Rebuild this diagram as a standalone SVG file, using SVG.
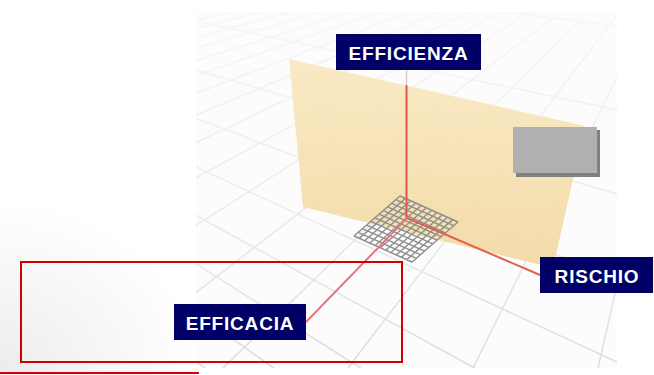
<svg xmlns="http://www.w3.org/2000/svg" width="654" height="375" viewBox="0 0 654 375">
  <defs>
    <linearGradient id="gridStroke" gradientUnits="userSpaceOnUse" x1="0" y1="12" x2="0" y2="368">
      <stop offset="0" stop-color="#f6f6f6"/>
      <stop offset="0.5" stop-color="#ececec"/>
      <stop offset="1" stop-color="#dcdcdc"/>
    </linearGradient>
    <linearGradient id="planeFill" gradientUnits="userSpaceOnUse" x1="0" y1="59" x2="0" y2="268">
      <stop offset="0" stop-color="#f9e7bd"/>
      <stop offset="1" stop-color="#f2d79e"/>
    </linearGradient>
    <radialGradient id="leftShade" cx="0" cy="1" r="1">
      <stop offset="0" stop-color="#ececec"/>
      <stop offset="1" stop-color="#ffffff"/>
    </radialGradient>
    <clipPath id="gridClip">
      <rect x="196" y="12" width="421" height="356"/>
    </clipPath>
    <style>
      .grid line { stroke: url(#gridStroke); stroke-width: 1.5; }
      .mesh { stroke: #8e8e8e; stroke-width: 1.4; fill: none; }
      .label rect { fill: #000066; }
      .label text { fill: #ffffff; font-family: "Liberation Sans", Arial, sans-serif; font-weight: bold; font-size: 19px; letter-spacing: 0.8px; text-anchor: middle; }
      .frame { fill: none; stroke: #d40000; stroke-width: 2; }
    </style>
  </defs>

  <rect width="654" height="375" fill="#ffffff"/>
  <rect x="0" y="200" width="200" height="175" fill="url(#leftShade)"/>
  <rect x="196" y="12" width="421" height="356" fill="#fcfcfc"/>

  <g id="floor-grid" class="grid" clip-path="url(#gridClip)">
    <line x1="705" y1="-100" x2="-1277" y2="368"/>
    <line x1="705" y1="-100" x2="-1152" y2="368"/>
    <line x1="705" y1="-100" x2="-1027" y2="368"/>
    <line x1="705" y1="-100" x2="-902" y2="368"/>
    <line x1="705" y1="-100" x2="-777" y2="368"/>
    <line x1="705" y1="-100" x2="-652" y2="368"/>
    <line x1="705" y1="-100" x2="-527" y2="368"/>
    <line x1="705" y1="-100" x2="-402" y2="368"/>
    <line x1="705" y1="-100" x2="-277" y2="368"/>
    <line x1="705" y1="-100" x2="-152" y2="368"/>
    <line x1="705" y1="-100" x2="-27" y2="368"/>
    <line x1="705" y1="-100" x2="98" y2="368"/>
    <line x1="705" y1="-100" x2="223" y2="368"/>
    <line x1="705" y1="-100" x2="348" y2="368"/>
    <line x1="705" y1="-100" x2="473" y2="368"/>
    <line x1="705" y1="-100" x2="598" y2="368"/>
    <line x1="-380" y1="-100" x2="617" y2="26"/>
    <line x1="-380" y1="-100" x2="617" y2="110"/>
    <line x1="-380" y1="-100" x2="617" y2="194"/>
    <line x1="-380" y1="-100" x2="617" y2="278"/>
    <line x1="-380" y1="-100" x2="617" y2="362"/>
    <line x1="-380" y1="-100" x2="617" y2="446"/>
    <line x1="-380" y1="-100" x2="617" y2="530"/>
    <line x1="-380" y1="-100" x2="617" y2="614"/>
    <line x1="-380" y1="-100" x2="617" y2="698"/>
  </g>

  <g id="plane">
    <polygon points="289,59 585,126 553,268 303,207" fill="url(#planeFill)" fill-opacity="0.88"/>
  </g>

  <g id="mesh">
    <path class="mesh" d="M400,196 L354,236 M405.27,198.36 L359.27,238.36 M410.55,200.73 L364.55,240.73 M415.82,203.09 L369.82,243.09 M421.09,205.45 L375.09,245.45 M426.36,207.82 L380.36,247.82 M431.64,210.18 L385.64,250.18 M436.91,212.55 L390.91,252.55 M442.18,214.91 L396.18,254.91 M447.45,217.27 L401.45,257.27 M452.73,219.64 L406.73,259.64 M458,222 L412,262 M400,196 L458,222 M395.82,199.64 L453.82,225.64 M391.64,203.27 L449.64,229.27 M387.45,206.91 L445.45,232.91 M383.27,210.55 L441.27,236.55 M379.09,214.18 L437.09,240.18 M374.91,217.82 L432.91,243.82 M370.73,221.45 L428.73,247.45 M366.55,225.09 L424.55,251.09 M362.36,228.73 L420.36,254.73 M358.18,232.36 L416.18,258.36 M354,236 L412,262"/>
  </g>

  <g id="gray-box">
    <rect x="516" y="130" width="84" height="47" fill="#808080"/>
    <rect x="513" y="127" width="84" height="46" fill="#b0b0b0"/>
  </g>

  <g id="connectors" fill="none" stroke-linecap="round">
    <line x1="406.5" y1="71" x2="406.5" y2="86" stroke="#d6cccc" stroke-width="1.5"/>
    <line x1="406.5" y1="86" x2="406.5" y2="218" stroke="#e2574c" stroke-width="2"/>
    <line x1="407" y1="218" x2="540" y2="275" stroke="#e0604f" stroke-width="2"/>
    <line x1="407" y1="218" x2="306" y2="322" stroke="#e6767c" stroke-width="2"/>
  </g>

  <g id="efficienza" class="label">
    <rect x="336" y="34" width="145" height="36"/>
    <text x="408.5" y="59.5">EFFICIENZA</text>
  </g>
  <g id="rischio" class="label">
    <rect x="540" y="257" width="113" height="36"/>
    <text x="597" y="282.5">RISCHIO</text>
  </g>
  <g id="efficacia" class="label">
    <rect x="174" y="304" width="132" height="36"/>
    <text x="240" y="329.5">EFFICACIA</text>
  </g>

  <g id="red-frame">
    <rect class="frame" x="21" y="262" width="381" height="100"/>
    <line x1="0" y1="373" x2="199" y2="373" stroke="#d40000" stroke-width="2"/>
  </g>
</svg>
